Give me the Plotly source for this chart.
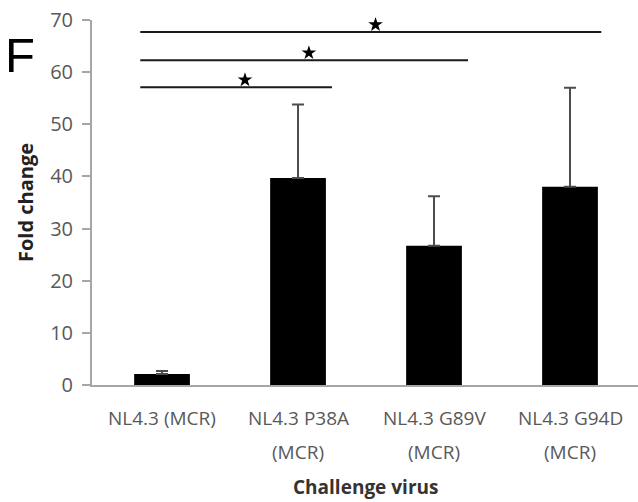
import plotly.graph_objects as go

line1_labels = ["NL4.3 (MCR)", "NL4.3 P38A", "NL4.3 G89V", "NL4.3 G94D"]
line2_labels = ["", "(MCR)", "(MCR)", "(MCR)"]
fold_change = [2.1, 39.7, 26.7, 38.0]
error_upper = [0.6, 14.1, 9.5, 19.0]
y_ticks = [0, 10, 20, 30, 40, 50, 60, 70]

# significance brackets (x in category index units)
sig_start = [-0.16, -0.16, -0.16]
sig_end = [1.25, 2.25, 3.23]
sig_y = [57.1, 62.3, 67.7]
star_x = [0.61, 1.08, 1.57]
star_y = [58.5, 63.7, 69.1]

x_idx = list(range(len(line1_labels)))
GRAY = "#595959"

fig = go.Figure()
fig.add_trace(go.Bar(
    x=x_idx, y=fold_change, width=0.41,
    marker=dict(color="black", line=dict(width=0)),
    error_y=dict(type="data", symmetric=False, array=error_upper,
                 arrayminus=[0] * len(error_upper),
                 color="#4d4d4d", thickness=2, width=6),
    showlegend=False,
))
for xs, xe, yv in zip(sig_start, sig_end, sig_y):
    fig.add_trace(go.Scatter(x=[xs, xe], y=[yv, yv], mode="lines",
                             line=dict(color="#1a1a1a", width=2),
                             showlegend=False, cliponaxis=False))
fig.add_trace(go.Scatter(x=star_x, y=star_y, mode="markers",
                         marker=dict(symbol="star", size=11, color="black"),
                         showlegend=False, cliponaxis=False))

annotations = [dict(text="F", xref="paper", yref="paper",
                    x=-0.131, y=0.905, xanchor="center", yanchor="middle",
                    showarrow=False,
                    font=dict(family="Liberation Sans", size=49, color="black"))]
for i in x_idx:
    annotations.append(dict(text=line1_labels[i], x=i, xref="x", y=0, yref="paper",
                            xanchor="center", yanchor="middle", yshift=-33,
                            showarrow=False,
                            font=dict(family="Open Sans", size=19, color=GRAY)))
    if line2_labels[i]:
        annotations.append(dict(text=line2_labels[i], x=i, xref="x", y=0, yref="paper",
                                xanchor="center", yanchor="middle", yshift=-67,
                                showarrow=False,
                                font=dict(family="Open Sans", size=19, color=GRAY)))
annotations.append(dict(text="<b>Challenge virus</b>", x=0.5, xref="paper", y=0, yref="paper",
                        xanchor="center", yanchor="middle", yshift=-102, showarrow=False,
                        font=dict(family="Open Sans", size=19, color="#333333")))

fig.update_layout(
    width=638, height=502,
    margin=dict(l=92, r=0, t=20, b=117),
    plot_bgcolor="white", paper_bgcolor="white",
    font=dict(family="Open Sans", color=GRAY),
    xaxis=dict(range=[-0.515, 3.5], tickvals=x_idx, showticklabels=False,
               automargin=False,
               showline=True, linecolor="#a6a6a6", linewidth=2,
               ticks="", showgrid=False, zeroline=False),
    yaxis=dict(range=[0, 70], tickvals=y_ticks, automargin=False,
               showline=True, linecolor="#a6a6a6", linewidth=2,
               ticks="outside", ticklen=8, tickcolor="#a6a6a6", tickwidth=2,
               showgrid=False, zeroline=False,
               tickfont=dict(size=20, color=GRAY), ticklabelstandoff=5,
               title=dict(text="<b>Fold change</b>", font=dict(size=20, color="#222222"),
                          standoff=11)),
    annotations=annotations,
)
fig.write_html("out.html", config={"displayModeBar": False},
               post_script="document.body.style.margin='0';document.body.style.overflow='hidden';")
